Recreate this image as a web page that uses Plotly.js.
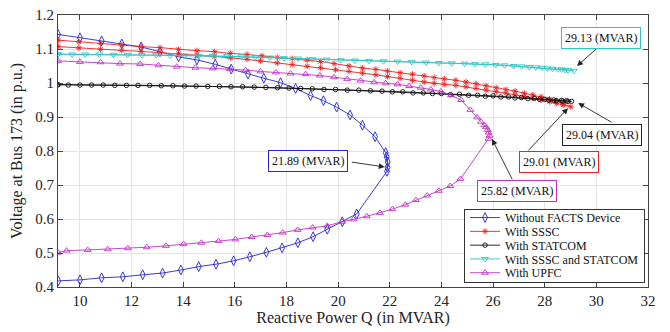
<!DOCTYPE html>
<html>
<head>
<meta charset="utf-8">
<script src="https://cdn.plot.ly/plotly-3.0.1.min.js"></script>
<style>html,body{margin:0;padding:0;background:#fff;}#chart{width:670px;height:332px;}</style>
</head>
<body>
<div id="chart"></div>
<script>
// ---- Data ----
var blueQ = [9.15,10.0,10.84,11.62,12.37,13.1,13.82,14.53,15.24,15.86,16.51,17.12,17.77,18.35,18.93,19.43,19.94,20.46,20.94,21.43,21.84,21.88,21.92,21.91,21.89,
             20.72,20.16,19.58,19.03,18.44,17.83,17.22,16.58,15.95,15.27,14.6,13.91,13.2,12.43,11.66,10.84,10.0,9.16];
var blueV = [1.143,1.133,1.124,1.115,1.106,1.092,1.077,1.068,1.055,1.041,1.026,1.014,1.001,0.984,0.963,0.948,0.929,0.906,0.876,0.842,0.795,0.783,0.768,0.752,0.740,
             0.615,0.592,0.570,0.548,0.530,0.515,0.502,0.489,0.477,0.467,0.460,0.450,0.441,0.436,0.430,0.427,0.421,0.418];

var ssscQ = [9.16,9.96,10.8,11.62,12.37,13.1,13.82,14.53,15.22,15.83,16.47,17.05,17.64,18.22,18.8,19.32,19.84,20.42,20.94,21.46,21.91,22.4,22.88,23.33,23.72,24.11,24.56,24.95,25.34,25.73,26.12,26.5,26.85,27.21,27.54,27.86,28.19,28.45,28.71,29.01,
             28.71,28.45,28.19,27.86,27.54,27.21,26.85,26.5,26.12,25.73,25.34,24.95,24.56,24.11,23.72,23.33,22.88,22.4,21.91,21.46,20.94,20.42,19.9,19.32,18.8,18.22,17.64,16.99,16.47,15.83,15.22,14.53,13.82,13.1,12.37,11.62,10.8,9.96,9.16];
var ssscV = [1.126,1.121,1.117,1.112,1.107,1.104,1.099,1.095,1.092,1.087,1.084,1.080,1.075,1.072,1.068,1.063,1.057,1.050,1.044,1.040,1.035,1.030,1.026,1.021,1.016,1.012,1.008,1.003,0.998,0.992,0.986,0.981,0.976,0.970,0.965,0.960,0.953,0.947,0.940,0.930,
             0.935,0.940,0.945,0.950,0.955,0.960,0.965,0.970,0.974,0.979,0.984,0.989,0.993,0.996,0.999,1.003,1.008,1.014,1.019,1.024,1.029,1.034,1.039,1.045,1.049,1.054,1.059,1.065,1.070,1.074,1.078,1.082,1.086,1.090,1.093,1.096,1.099,1.103,1.107];

var statcomQ = [9.15,10.0,10.9,11.8,12.7,13.6,14.5,15.4,16.3,17.2,18.1,19.0,19.9,20.8,21.7,22.5,23.3,24.0,24.7,25.4,26.0,26.6,27.1,27.6,28.0,28.35,28.65,28.85,29.04,
                28.9,28.7,28.45,28.15,27.8,27.35,26.85,26.3,25.7,25.05,24.35,23.65,22.9,22.1,21.25,20.35,19.45,18.55,17.65,16.75,15.85,14.95,14.05,13.15,12.25,11.35,10.45,9.55,9.15];
var statcomV = [0.995,0.994,0.994,0.993,0.993,0.992,0.991,0.990,0.989,0.987,0.985,0.983,0.981,0.979,0.976,0.974,0.971,0.969,0.967,0.964,0.962,0.959,0.957,0.955,0.952,0.950,0.949,0.948,0.946,
                0.946,0.947,0.948,0.950,0.952,0.954,0.956,0.959,0.961,0.964,0.966,0.969,0.971,0.974,0.977,0.979,0.981,0.984,0.986,0.988,0.989,0.990,0.991,0.992,0.993,0.993,0.994,0.994,0.995];

var bothQ = [9.15,10.2,11.3,12.4,13.5,14.6,15.7,16.8,17.9,19.0,20.1,21.2,22.3,23.4,24.4,25.3,26.1,26.8,27.4,27.9,28.3,28.65,28.9,29.13,
             28.8,28.5,28.1,27.65,27.1,26.45,25.7,24.9,23.9,22.85,21.75,20.65,19.55,18.45,17.35,16.25,15.15,14.05,12.95,11.85,10.75,9.7,9.15];
var bothV = [1.084,1.084,1.083,1.082,1.081,1.080,1.079,1.076,1.073,1.070,1.067,1.065,1.063,1.060,1.058,1.056,1.053,1.050,1.047,1.045,1.042,1.040,1.038,1.036,
             1.038,1.040,1.043,1.046,1.049,1.052,1.055,1.057,1.059,1.062,1.064,1.066,1.069,1.072,1.075,1.078,1.080,1.081,1.082,1.083,1.084,1.084,1.085];

var upfcQ = [9.15,10.0,10.8,11.55,12.33,13.04,13.75,14.47,15.15,15.8,16.41,16.99,17.59,18.16,18.74,19.29,19.84,20.35,20.87,21.39,21.84,22.3,22.75,23.2,23.59,23.98,24.37,24.76,25.12,25.38,25.53,25.66,25.73,25.79,25.83,25.86,25.82,
             24.74,24.34,23.9,23.45,23.01,22.6,22.1,21.62,21.11,20.6,20.15,19.58,19.01,18.43,17.85,17.26,16.65,16.02,15.37,14.7,14.01,13.33,12.59,11.85,11.08,10.3,9.48,9.16];
var upfcV = [1.065,1.062,1.061,1.057,1.056,1.052,1.048,1.045,1.043,1.041,1.038,1.034,1.031,1.028,1.026,1.022,1.017,1.012,1.007,1.002,0.999,0.996,0.991,0.986,0.981,0.975,0.964,0.950,0.921,0.899,0.886,0.876,0.870,0.862,0.854,0.845,0.836,
             0.718,0.697,0.683,0.669,0.656,0.642,0.629,0.618,0.608,0.599,0.592,0.580,0.575,0.568,0.560,0.553,0.547,0.540,0.535,0.530,0.526,0.521,0.517,0.514,0.511,0.509,0.507,0.501];

var seriesNames = ["Without FACTS Device","With SSSC","With STATCOM","With SSSC and STATCOM","With UPFC"];
var noseLabels = ["21.89 (MVAR)","29.01 (MVAR)","29.04 (MVAR)","29.13 (MVAR)","25.82 (MVAR)"];
var xTicks = [10,12,14,16,18,20,22,24,26,28,30,32];
var yTicks = [0.4,0.5,0.6,0.7,0.8,0.9,1.0,1.1,1.2];

// ---- Styles ----
var SERIF = "Times New Roman, Liberation Serif, DejaVu Serif, serif";
var cBlue = '#2525d4', cRed = '#ee2020', cBlack = '#111111', cCyan = '#30c4c4', cMag = '#c032c4';

function tr(x, y, name, color, symbol, size) {
  return {
    x: x, y: y, name: name, type: 'scatter', mode: 'lines+markers',
    line: {color: color, width: 0.9},
    marker: {symbol: symbol, size: size, color: color, line: {color: color, width: 0.9}}
  };
}

var data = [
  tr(blueQ, blueV, seriesNames[0], cBlue, 'diamond-tall-open', 7),
  tr(ssscQ, ssscV, seriesNames[1], cRed, 'asterisk-open', 5),
  tr(statcomQ, statcomV, seriesNames[2], cBlack, 'circle-open', 4.5),
  tr(bothQ, bothV, seriesNames[3], cCyan, 'triangle-down-open', 6),
  tr(upfcQ, upfcV, seriesNames[4], cMag, 'triangle-up-open', 6)
];

function label(text, x, y, color) {
  return {text: text, x: x, y: y, xref: 'x', yref: 'y', showarrow: false,
          font: {family: SERIF, size: 12, color: '#111'},
          bgcolor: '#ffffff', bordercolor: color, borderwidth: 1, borderpad: 3};
}
function arrow(hx, hy, tx, ty) {
  return {text: '', x: hx, y: hy, ax: tx, ay: ty, xref: 'x', yref: 'y', axref: 'x', ayref: 'y',
          showarrow: true, arrowhead: 2, arrowsize: 1.3, arrowwidth: 0.9, arrowcolor: '#222'};
}

var annotations = [
  arrow(29.25, 1.050, 30.06, 1.104),
  arrow(29.30, 0.941, 30.65, 0.882),
  arrow(28.90, 0.926, 27.31, 0.797),
  arrow(25.96, 0.835, 26.77, 0.712),
  arrow(21.80, 0.753, 20.47, 0.768),
  label(noseLabels[3], 30.18, 1.131, cCyan),
  label(noseLabels[2], 30.22, 0.847, '#222'),
  label(noseLabels[1], 28.55, 0.768, cRed),
  label(noseLabels[4], 26.91, 0.682, cMag),
  label(noseLabels[0], 18.85, 0.771, cBlue)
];

var axisCommon = {
  showgrid: true, gridcolor: '#e4e4e4', gridwidth: 1,
  showline: true, linecolor: '#444', linewidth: 1, mirror: 'ticks',
  ticks: 'inside', ticklen: 5, tickcolor: '#444',
  tickfont: {family: SERIF, size: 15, color: '#222'},
  zeroline: false
};

var layout = {
  width: 670, height: 332,
  margin: {l: 58, r: 22, t: 15, b: 45},
  paper_bgcolor: '#ffffff', plot_bgcolor: '#ffffff',
  font: {family: SERIF, color: '#222'},
  xaxis: Object.assign({}, axisCommon, {
    range: [9.15, 32], tickvals: xTicks,
    title: {text: 'Reactive Power Q (in MVAR)', font: {family: SERIF, size: 16, color: '#222'}, standoff: 3}
  }),
  yaxis: Object.assign({}, axisCommon, {
    range: [0.4, 1.2], tickvals: yTicks, ticktext: yTicks.map(function(v){return String(+v.toFixed(1));}),
    title: {text: 'Voltage at Bus 173 (in p.u.)', font: {family: SERIF, size: 16, color: '#222'}, standoff: 8}
  }),
  showlegend: true,
  legend: {
    x: 0.995, y: 0.016, xanchor: 'right', yanchor: 'bottom',
    bgcolor: '#ffffff', bordercolor: '#333', borderwidth: 1,
    font: {family: SERIF, size: 12, color: '#111'},
    tracegroupgap: 0, itemwidth: 30
  },
  annotations: annotations
};

Plotly.newPlot('chart', data, layout, {displayModeBar: false, staticPlot: true}).then(function(gd){
  // tighten legend row spacing to match the compact reference legend
  var leg = gd.querySelector('g.legend');
  if (!leg) return;
  var bg = leg.querySelector('rect.bg');
  var items = leg.querySelectorAll('g.traces');
  if (!bg || !items.length) return;
  var re = /translate\(\s*([-\d.e]+)[\s,]+([-\d.e]+)\s*\)/;
  var oldH = parseFloat(bg.getAttribute('height'));
  var step = 13.8, pad = 2;
  items.forEach(function(g, i){
    var m = re.exec(g.getAttribute('transform') || '');
    var x = m ? m[1] : 1;
    g.setAttribute('transform', 'translate(' + x + ',' + (pad + step * (i + 0.5)) + ')');
  });
  var newH = pad * 2 + step * items.length;
  bg.setAttribute('height', newH);
  var lt = re.exec(leg.getAttribute('transform') || '');
  if (lt) leg.setAttribute('transform', 'translate(' + lt[1] + ',' + (parseFloat(lt[2]) + oldH - newH) + ')');
});
</script>
</body>
</html>
